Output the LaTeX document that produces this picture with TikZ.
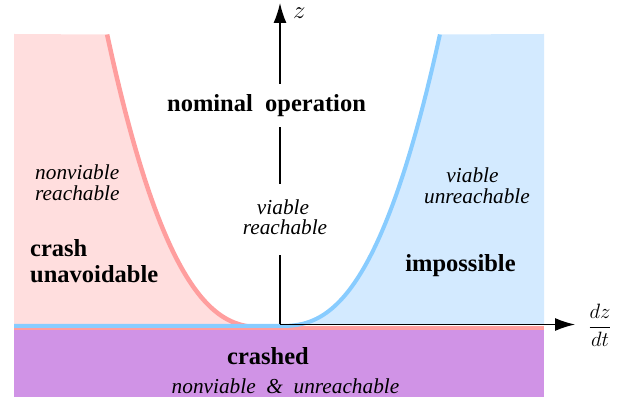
\documentclass[tikz,border=0pt]{standalone}
\usepackage{fontspec}
\setmainfont{Liberation Serif}
\newfontfamily\boldlblfont[WordSpace=2.7]{Liberation Serif}
\newfontfamily\itlblfont[WordSpace=2.0]{Liberation Serif}
\usetikzlibrary{arrows.meta}
\definecolor{pinkfill}{HTML}{FFDEDE}
\definecolor{pinkline}{HTML}{FF9E9E}
\definecolor{bluefill}{HTML}{D3EAFF}
\definecolor{blueline}{HTML}{88CCFF}
\definecolor{crashfill}{HTML}{D093E6}
\begin{document}
\begin{tikzpicture}[x=1pt,y=-1pt,
  boldlbl/.style={inner sep=0pt, anchor=base, font=\boldlblfont\fontsize{24.5}{26}\selectfont\bfseries},
  itlbl/.style={inner sep=0pt, anchor=base, font=\itlblfont\fontsize{21.3}{22}\selectfont\itshape},
  mathlbl/.style={inner sep=0pt, font=\fontsize{26}{28}\selectfont},
  curveline/.style={line width=4.5pt},
  axisline/.style={line width=1.5pt, -{Latex[length=20pt,width=13pt]}}]
\useasboundingbox (0,0) rectangle (634,411);
% fills
\fill[pinkfill] (14,34) -- (14,327) -- plot[domain=0:1, samples=80, smooth] ({265-158*\x},{327-293*\x*\x*sqrt(\x)}) -- cycle;
\fill[bluefill] (280,325) -- plot[domain=0:1, samples=80, smooth] ({280+160*\x},{325-291*\x*\x*sqrt(\x)}) -- (544,34) -- (544,325) -- cycle;
\fill[crashfill] (14,329.5) rectangle (544,397);
% boundary curves
\draw[curveline, pinkline] (14,328) -- (265,328) -- (544,328);
\draw[curveline, pinkline] plot[domain=0:1, samples=80, smooth] ({265-158*\x},{327.5-293.5*\x*\x*sqrt(\x)});
\draw[curveline, blueline, line width=4pt] (14,326) -- (280,326) -- plot[domain=0:1, samples=80, smooth] ({280+160*\x},{326-292*\x*\x*sqrt(\x)});
% axes
\coordinate (O) at (280,324.5);
\coordinate (ztip) at (280,3);
\coordinate (xtip) at (575,324.5);
\draw[axisline] (O) -- (ztip);
\draw[axisline] (O) -- (xtip);
\node[mathlbl, anchor=base west] (zl) at (293,19) {$z$};
\node[mathlbl, font=\fontsize{21}{23}\selectfont, anchor=base] (dl) at (600,332.5) {$\displaystyle\frac{dz}{dt}$};
% labels
\node[boldlbl, fill=white, inner xsep=4pt, inner ysep=10.5pt] (nom) at (266.5,111.5) {nominal operation};
\node[itlbl, anchor=base west] (nv1) at (35,180) {nonviable};
\node[itlbl, anchor=base west] (nv2) at (35,201) {reachable};
\node[boldlbl, anchor=base west] (cr1) at (30,257) {crash};
\node[boldlbl, anchor=base west] (cr2) at (30,283) {unavoidable};
\fill[white] (255,184) rectangle (315,255);
\node[itlbl] (vr1) at (283,215) {viable};
\node[itlbl] (vr2) at (285,235) {reachable};
\node[itlbl] (vu1) at (472.5,183) {viable};
\node[itlbl] (vu2) at (477,204) {unreachable};
\node[boldlbl] (imp) at (460.5,272) {impossible};
\node[boldlbl] (crd) at (268,364) {crashed};
\node[itlbl] (nvu) at (285.5,393) {nonviable \& unreachable};
\end{tikzpicture}
\end{document}
